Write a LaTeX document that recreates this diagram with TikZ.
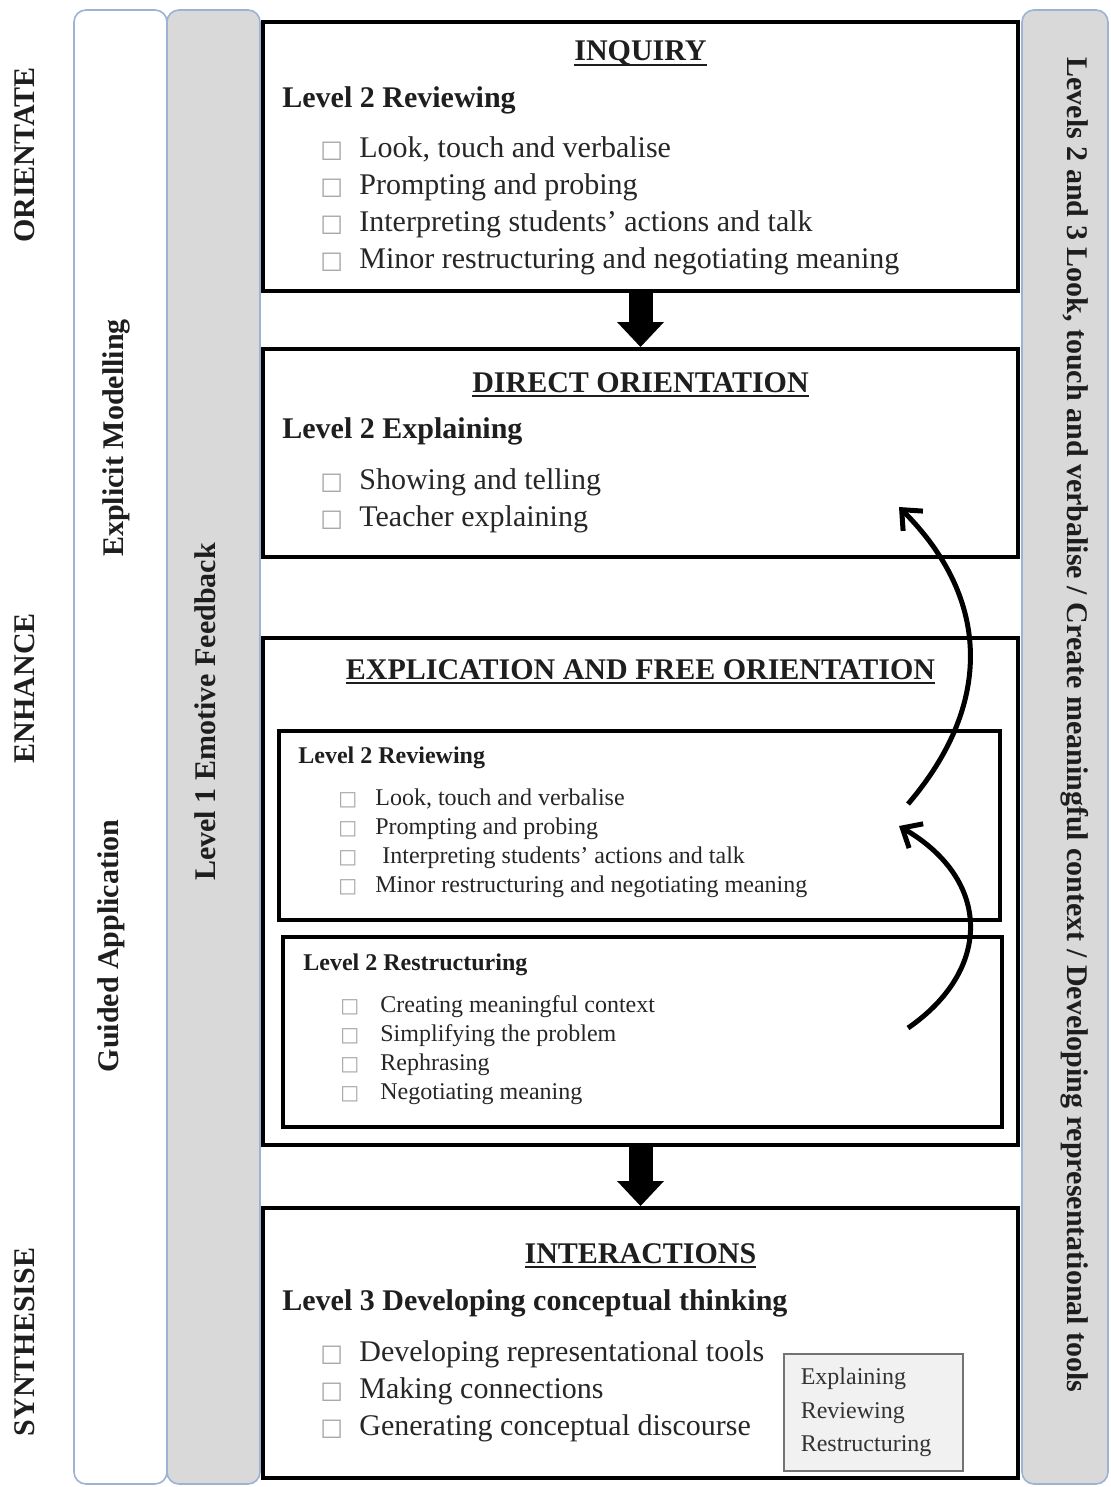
\documentclass[tikz,border=0pt]{standalone}
\usepackage{fontspec}
\setmainfont{Liberation Serif}
\newfontfamily\boxfont{DejaVu Sans}
\usetikzlibrary{arrows.meta,positioning}
\definecolor{lanegray}{HTML}{D9D9D9}
\definecolor{laneedge}{HTML}{9DB3D3}
\definecolor{notegray}{HTML}{F1F1F1}
\definecolor{ink}{HTML}{1E1E1E}
\newcommand\chk[2]{\makebox[#1][l]{\boxfont\fontsize{#2}{#2}\selectfont\color{black!35}□}}
\newcommand\ckA{\chk{19.5pt}{12}}
\newcommand\ckB{\chk{18.5pt}{10}}
\newcommand\ttl[1]{\setbox0=\hbox{#1}\rlap{\rule[-2.6pt]{\wd0}{1.3pt}}\box0}
\begin{document}
\begin{tikzpicture}[x=0.5pt,y=-0.5pt,text=ink,font=\fontsize{15}{18.35}\selectfont,
 lane/.style={draw=laneedge,thick,rounded corners=6pt,minimum height=737pt,inner sep=0pt},
 stage/.style={draw=black,line width=2pt,fill=white,minimum width=377.5pt,inner sep=0pt},
 part/.style={draw=black,line width=2pt,inner sep=0pt},
 vlabel/.style={font=\fontsize{15}{18}\selectfont\bfseries,inner sep=0pt},
 phase/.style={vlabel,rotate=90},
 ttlnode/.style={font=\fontsize{15}{18}\selectfont\bfseries,anchor=base,inner sep=0pt},
 lvl/.style={font=\fontsize{15}{18}\selectfont\bfseries,anchor=base west,inner sep=0pt},
 sublvl/.style={lvl,font=\fontsize{12}{14}\selectfont\bfseries},
 items/.style={anchor=base west,align=left,inner sep=0pt,text=black!85},
 subitems/.style={items,font=\fontsize{12}{14.5}\selectfont},
 note/.style={draw=black!55,thick,fill=notegray,anchor=north west,align=left,inner xsep=8.5pt,text width=72.5pt,minimum width=89.5pt,minimum height=58.5pt,font=\fontsize{12}{16.75}\selectfont,text=black!80},
 bigarrow/.style={line width=12pt,-{Triangle[length=12.5pt,width=23.5pt,line width=0pt]}},
 backarrow/.style={line width=2.5pt,-{Straight Barb[length=8pt,width=14pt]}}]
 \useasboundingbox (0,0) rectangle (1110,1487);
 \node[lane,fill=white,minimum width=46.5pt] (mod) at (120.5,747) {};
 \node[lane,fill=lanegray,minimum width=46.5pt] (emo) at (213.5,747) {};
 \node[lane,fill=lanegray,minimum width=43pt] (rep) at (1065,747) {};
 \node[phase] (ori) at (25,155) {ORIENTATE};
 \node[phase] (enh) at (25,688) {ENHANCE};
 \node[phase] (syn) at (25,1342) {SYNTHESISE};
 \node[phase] (modT) at (116,438) {Explicit Modelling};
 \node[phase] (guiT) at (111,946) {Guided Application};
 \node[phase] (emoT) at (205,712) {Level 1 Emotive Feedback};
 \node[vlabel,rotate=-90] (repT) at (1075,725) {Levels 2 and 3 Look, touch and verbalise / Create meaningful context / Developing representational tools};
 \node[stage,minimum height=134.5pt] (inq) at (640.5,156.5) {};
 \node[stage,minimum height=104pt] (dor) at (640.5,453) {};
 \node[stage,minimum height=253.5pt] (exo) at (640.5,891.5) {};
 \node[stage,minimum height=135pt] (itr) at (640.5,1343) {};
 \node[part,minimum width=360.5pt,minimum height=94.5pt] (rev) at (639.5,825.5) {};
 \node[part,minimum width=359.5pt,minimum height=95pt] (rst) at (642.5,1032) {};
 \node[ttlnode] (inqT) at (640.5,61) {\ttl{INQUIRY}};
 \node[lvl] (inqL) at (282,108) {Level 2 Reviewing};
 \node[items] (inqI) at (320,268) {\ckA Look, touch and verbalise\\\ckA Prompting and probing\\\ckA Interpreting students’ actions and talk\\\ckA Minor restructuring and negotiating meaning};
 \node[ttlnode] (dorT) at (640.5,392) {\ttl{DIRECT ORIENTATION}};
 \node[lvl] (dorL) at (282,438) {Level 2 Explaining};
 \node[items] (dorI) at (320,526) {\ckA Showing and telling\\\ckA Teacher explaining};
 \node[ttlnode] (exoT) at (640.5,679) {\ttl{EXPLICATION AND FREE ORIENTATION}};
 \node[sublvl] (revL) at (298,763) {Level 2 Reviewing};
 \node[subitems] (revI) at (338,892) {\ckB Look, touch and verbalise\\\ckB Prompting and probing\\\ckB\hspace{3.5pt}Interpreting students’ actions and talk\\\ckB Minor restructuring and negotiating meaning};
 \node[sublvl] (rstL) at (303,970) {Level 2 Restructuring};
 \node[subitems] (rstI) at (340,1099) {\chk{20pt}{10}Creating meaningful context\\\chk{20pt}{10}Simplifying the problem\\\chk{20pt}{10}Rephrasing\\\chk{20pt}{10}Negotiating meaning};
 \node[ttlnode] (itrT) at (640.5,1263) {\ttl{INTERACTIONS}};
 \node[lvl] (itrL) at (282,1310) {Level 3 Developing conceptual thinking};
 \node[items] (itrI) at (320,1435) {\ckA Developing representational tools\\\ckA Making connections\\\ckA Generating conceptual discourse};
 \node[note] (mix) at (783,1353) {Explaining\\Reviewing\\Restructuring};
 \draw[bigarrow] (inq.south) -- (dor.north);
 \draw[bigarrow] (exo.south) -- (itr.north);
 \coordinate (up1) at (908,804);
 \coordinate (to1) at (899,507);
 \coordinate (up2) at (908,1028);
 \coordinate (to2) at (899,826);
 \draw[backarrow] (up1) .. controls (992,706) and (992,600) .. (to1);
 \draw[backarrow] (up2) .. controls (992,970) and (992,880) .. (to2);
\end{tikzpicture}
\end{document}
